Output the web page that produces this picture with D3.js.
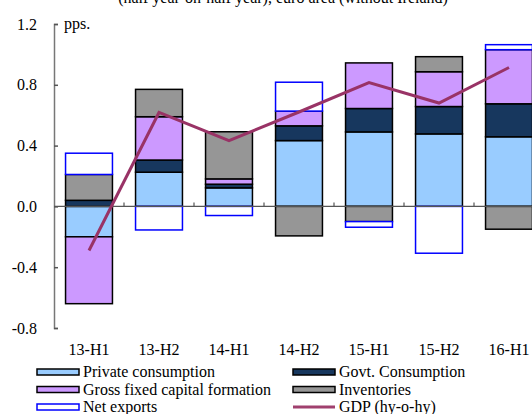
<!DOCTYPE html>
<html>
<head>
<meta charset="utf-8">
<script src="https://cdn.jsdelivr.net/npm/d3@7"></script>
<style>
  body { margin: 0; background: #fff; }
  svg, svg text { font-family: "Liberation Serif", "Times New Roman", Times, "DejaVu Serif", serif !important; }
</style>
</head>
<body>
<svg id="chart" width="532" height="414"></svg>
<script>
const categories = ["13-H1", "13-H2", "14-H1", "14-H2", "15-H1", "15-H2", "16-H1"];
const privateCons = [-0.20, 0.225, 0.122, 0.433, 0.49, 0.477, 0.458];
const govtCons    = [0.04, 0.08, 0.024, 0.097, 0.154, 0.18, 0.217];
const gfcf        = [-0.44, 0.285, 0.035, 0.097, 0.30, 0.229, 0.356];
const inventories = [0.17, 0.18, 0.31, -0.194, -0.10, 0.099, -0.15];
const netExports  = [0.14, -0.155, -0.06, 0.19, -0.037, -0.308, 0.033];
const gdp         = [-0.29, 0.618, 0.433, 0.621, 0.815, 0.68, 0.914];
const yTicks      = [-0.8, -0.4, 0.0, 0.4, 0.8, 1.2];

const FONT = "'Liberation Serif', 'Times New Roman', Times, serif";

const seriesInfo = [
  { key: "priv", name: "Private consumption", values: privateCons, fill: "#99CCFF", stroke: "#000" },
  { key: "govt", name: "Govt. Consumption", values: govtCons, fill: "#17375E", stroke: "#000" },
  { key: "gfcf", name: "Gross fixed capital formation", values: gfcf, fill: "#CC99FF", stroke: "#000" },
  { key: "inv",  name: "Inventories", values: inventories, fill: "#969696", stroke: "#000" },
  { key: "nx",   name: "Net exports", values: netExports, fill: "#FFFFFF", stroke: "#0000FF" }
];

const rows = categories.map((c, i) => {
  const r = { cat: c };
  seriesInfo.forEach(s => r[s.key] = s.values[i]);
  return r;
});

const svg = d3.select("#chart").attr("font-family", FONT);

const x = d3.scaleBand().domain(categories).range([54, 544]).paddingInner(0.33).paddingOuter(0.165);
const y = d3.scaleLinear().domain([-0.8, 1.2]).range([328, 24]);

// title (cropped at top, as in the source)
svg.append("text").attr("x", 283).attr("y", 3).attr("text-anchor", "middle")
  .attr("font-size", 16).attr("font-family", FONT).attr("fill", "#000")
  .text("(half year-on-half year), euro area (without Ireland)");

const stack = d3.stack().keys(seriesInfo.map(s => s.key)).offset(d3.stackOffsetDiverging);
const stacked = stack(rows);

stacked.forEach((layer, li) => {
  const s = seriesInfo[li];
  svg.append("g").selectAll("rect").data(layer).join("rect")
    .attr("x", d => x(d.data.cat))
    .attr("width", x.bandwidth())
    .attr("y", d => y(Math.max(d[0], d[1])))
    .attr("height", d => Math.abs(y(d[0]) - y(d[1])))
    .attr("fill", s.fill)
    .attr("stroke", s.stroke)
    .attr("stroke-width", 1.5);
});

// y axis
const fmt = d3.formatLocale({ decimal: ".", thousands: ",", grouping: [3], currency: ["", ""], minus: "-" }).format(".1f");
const yAxis = d3.axisLeft(y).tickValues(yTicks).tickSize(-4).tickPadding(17).tickFormat(fmt);
const yg = svg.append("g").attr("transform", "translate(54,0)").call(yAxis)
  .attr("font-family", FONT);
yg.select(".domain").attr("stroke", "#777").attr("stroke-width", 1.5);
yg.selectAll(".tick line").attr("stroke", "#555").attr("stroke-width", 1.5);
yg.selectAll(".tick text").attr("font-size", 16).attr("fill", "#000")
  .attr("font-family", FONT);

// zero line with category separators
const z = y(0);
svg.append("line").attr("x1", 54).attr("x2", 544).attr("y1", z).attr("y2", z)
  .attr("stroke", "#555").attr("stroke-width", 1.2);
const step = x.step();
svg.append("g").selectAll("line").data(categories.slice(1)).join("line")
  .attr("x1", d => x(d) - step * x.paddingInner() / 2)
  .attr("x2", d => x(d) - step * x.paddingInner() / 2)
  .attr("y1", z).attr("y2", z - 4)
  .attr("stroke", "#555").attr("stroke-width", 1.2);

// x category labels
svg.append("g").selectAll("text").data(categories).join("text")
  .attr("x", d => x(d) + x.bandwidth() / 2)
  .attr("y", 355)
  .attr("text-anchor", "middle").attr("font-size", 16).attr("font-family", FONT).attr("fill", "#000")
  .text(d => d);

// GDP line
const line = d3.line().x((d, i) => x(categories[i]) + x.bandwidth() / 2).y(d => y(d));
svg.append("path").datum(gdp).attr("d", line)
  .attr("fill", "none").attr("stroke", "#993366").attr("stroke-width", 3)
  .attr("stroke-linejoin", "miter");

// pps label
svg.append("text").attr("x", 64).attr("y", 29).attr("font-size", 16).attr("font-family", FONT).text("pps.");

// legend
const legendItems = [
  { s: seriesInfo[0], col: 0, row: 0 },
  { s: seriesInfo[1], col: 1, row: 0 },
  { s: seriesInfo[2], col: 0, row: 1 },
  { s: seriesInfo[3], col: 1, row: 1 },
  { s: seriesInfo[4], col: 0, row: 2 },
  { s: { name: "GDP (hy-o-hy)", line: true }, col: 1, row: 2 }
];
const colX = [37, 293];
const rowY = [372, 389.5, 407];
const lg = svg.append("g");
legendItems.forEach(it => {
  const lx = colX[it.col], ly = rowY[it.row];
  if (it.s.line) {
    lg.append("line").attr("x1", lx).attr("x2", lx + 42).attr("y1", ly).attr("y2", ly)
      .attr("stroke", "#A0406E").attr("stroke-width", 3);
  } else {
    lg.append("rect").attr("x", lx).attr("y", ly - 3).attr("width", 42).attr("height", 6)
      .attr("fill", it.s.fill).attr("stroke", it.s.stroke).attr("stroke-width", 1.5);
  }
  lg.append("text").attr("x", lx + 46).attr("y", ly + 5).attr("font-size", 16)
    .attr("font-family", FONT).text(it.s.name);
});
</script>
</body>
</html>
